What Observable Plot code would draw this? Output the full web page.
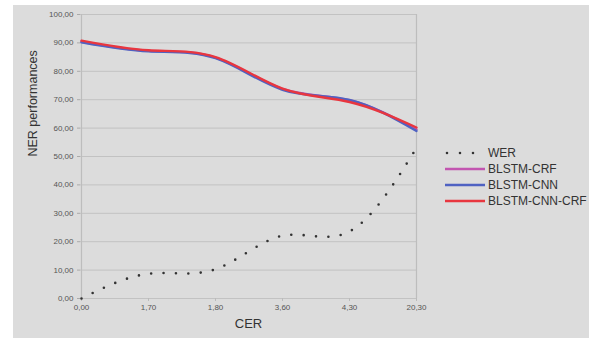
<!DOCTYPE html>
<html><head><meta charset="utf-8">
<script src="https://cdn.jsdelivr.net/npm/d3@7"></script>
<script src="https://cdn.jsdelivr.net/npm/@observablehq/plot@0.6"></script>
<style>
body{margin:0;background:#fff;}
#wrap{position:relative;width:589px;height:338px;overflow:hidden;}
#bg{position:absolute;left:13px;top:5px;right:0;bottom:0;background:#dcdcdc;}
#chart{position:absolute;left:0;top:0;}
#legend{position:absolute;left:445px;top:145px;font:12px "Liberation Sans",Arial,sans-serif;color:#333;}
.row{display:flex;align-items:center;height:16px;}
.row svg{margin-right:3px;display:block;}
</style></head>
<body><div id="wrap"><div id="bg"></div><div id="chart"></div><div id="legend"></div></div>
<script>
const cer = ["0,00", "1,70", "1,80", "3,60", "4,30", "20,30"];
const yTicks = [0, 10, 20, 30, 40, 50, 60, 70, 80, 90, 100];
const wer = [0, 8.7, 10.3, 22.1, 23.6, 53];
const blstmCrf = [90.4, 87.2, 84.8, 73.8, 69.8, 59.5];
const blstmCnn = [90.2, 87.0, 84.6, 73.5, 69.9, 59.0];
const blstmCnnCrf = [90.8, 87.4, 85.0, 73.9, 69.2, 60.2];
const seriesNames = ["BLSTM-CRF", "BLSTM-CNN", "BLSTM-CNN-CRF"];
const seriesColors = ["#c255b0", "#4f62c2", "#e8363f"];

const werRows = cer.map((c, i) => ({cer: c, value: wer[i]}));
const nerRows = [];
[blstmCrf, blstmCnn, blstmCnnCrf].forEach((vals, k) =>
  cer.forEach((c, i) => nerRows.push({series: seriesNames[k], cer: c, value: vals[i]})));

const chart = Plot.plot({
  width: 589, height: 338,
  marginLeft: 80, marginRight: 173, marginTop: 14, marginBottom: 40,
  style: {background: "transparent", fontFamily: "'Liberation Sans', Arial, sans-serif", color: "#555"},
  x: {type: "point", domain: cer, padding: 0},
  y: {domain: [0, 100]},
  color: {domain: seriesNames, range: seriesColors},
  marks: [
    Plot.ruleY(yTicks, {stroke: "#c2c2c2", strokeWidth: 1}),
    Plot.ruleX([cer[0], cer[cer.length - 1]], {stroke: "#bdbdbd", strokeWidth: 1.2}),
    Plot.axisY({ticks: yTicks, tickFormat: d => d.toFixed(2).replace(".", ","), tickSize: 3, tickPadding: 4, fontSize: 8, label: null, stroke: "#aaa"}),
    Plot.axisX({tickSize: 3, tickPadding: 3, fontSize: 8, label: null, stroke: "#bbb"}),
    Plot.line(werRows, {x: "cer", y: "value", curve: "natural", stroke: "#333", strokeWidth: 2.6, strokeLinecap: "round", strokeDasharray: "0 12.4"}),
    Plot.line(nerRows, {x: "cer", y: "value", z: "series", stroke: "series", curve: "natural", strokeWidth: 2.4}),
    Plot.text(["CER"], {frameAnchor: "bottom", dy: 29, fontSize: 13, fill: "#333"}),
    Plot.text(["NER performances"], {frameAnchor: "left", dx: -48, rotate: -90, fontSize: 12.5, fill: "#333"})
  ]
});
document.getElementById("chart").appendChild(chart);

const legend = document.getElementById("legend");
const items = [{name: "WER", color: "#333", dots: true}].concat(seriesNames.map((n, i) => ({name: n, color: seriesColors[i]})));
items.forEach(it => {
  const row = document.createElement("div");
  row.className = "row";
  const sw = it.dots
    ? `<svg width="40" height="16"><line x1="2" x2="30" y1="8" y2="8" stroke="${it.color}" stroke-width="2.6" stroke-linecap="round" stroke-dasharray="0 13"/></svg>`
    : `<svg width="40" height="16"><line x1="0" x2="40" y1="8" y2="8" stroke="${it.color}" stroke-width="2.6"/></svg>`;
  row.innerHTML = sw + `<span>${it.name}</span>`;
  legend.appendChild(row);
});
</script>
</body></html>
